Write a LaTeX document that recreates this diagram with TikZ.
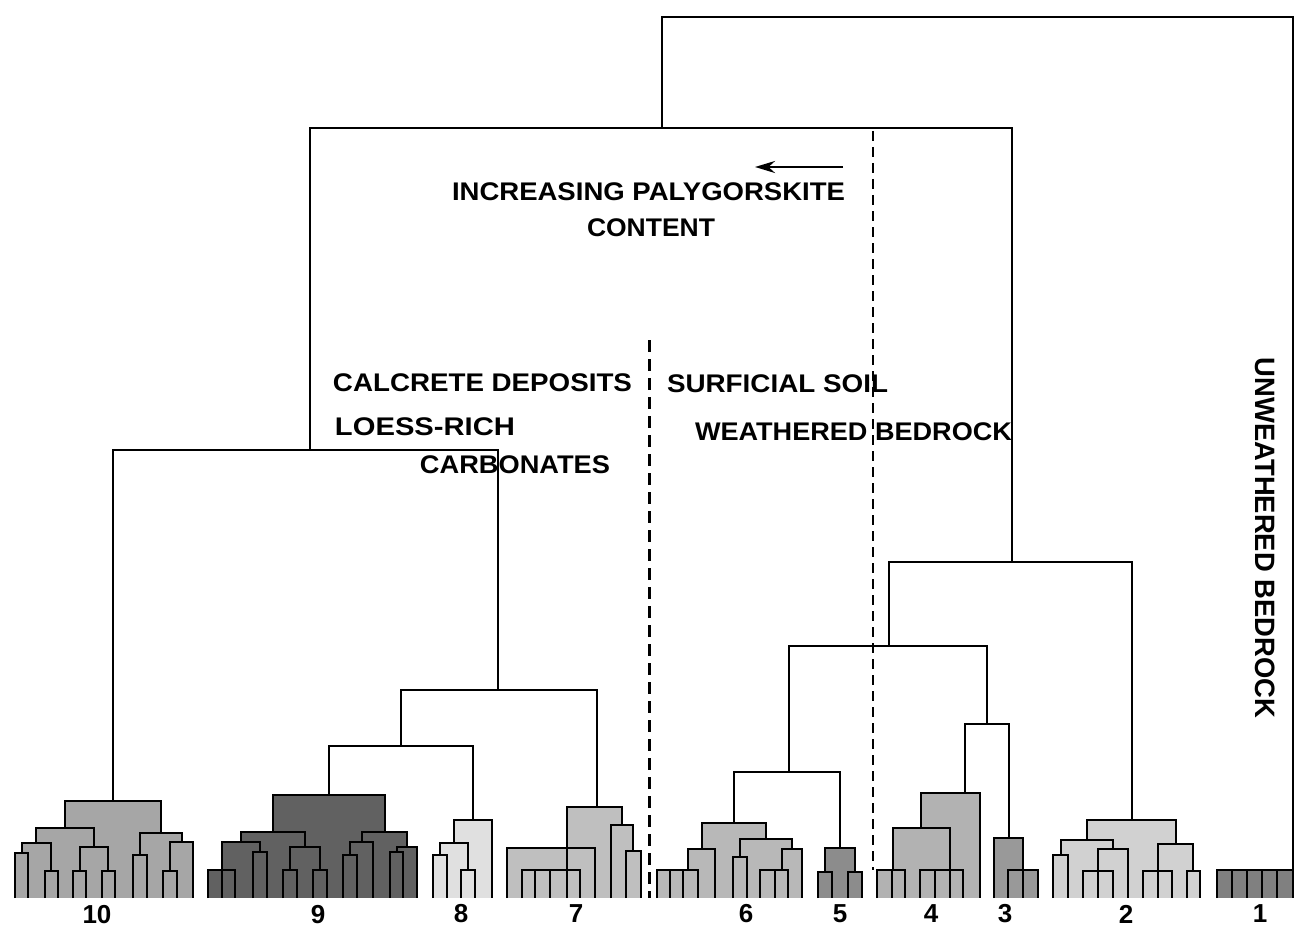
\documentclass[tikz,border=0pt]{standalone}
\usepackage{fontspec}
\setmainfont{Liberation Sans}
\usetikzlibrary{arrows.meta}
\pgfdeclarelayer{bg}
\pgfsetlayers{bg,main}
\newcommand{\clc}{black!30}
\newcommand{\Lk}[5]{%
 \begin{pgfonlayer}{bg}\fill[\clc] (#1,#5) rectangle (#3,898);\end{pgfonlayer}
 \draw[cl] (#1,#2) |- (#3,#5) -- (#3,#4);}
\newcommand{\Lf}[2]{\draw[cl] (#1,#2) -- (#1,898);}
\newcommand{\Mk}[5]{\draw[mainln] (#1,#2) |- (#3,#5) -- (#3,#4);}
\newcommand{\fitw}[2]{\resizebox{#1pt}{\height}{#2}}
\tikzset{
 cl/.style={line width=2.4pt, line join=miter},
 mainln/.style={line width=1.8pt},
 lab/.style={inner sep=0pt, font=\fontsize{25.5}{28}\selectfont\bfseries},
 num/.style={inner sep=0pt, font=\fontsize{26}{28}\selectfont\bfseries},
 thickdash/.style={line width=3pt, dash pattern=on 12pt off 7pt},
 thindash/.style={line width=1.4pt, dash pattern=on 10pt off 6pt}
}
\begin{document}
\begin{tikzpicture}[x=1pt,y=-1pt]
\useasboundingbox (0,0) rectangle (1295,928);
% ---------- main skeleton ----------
\Mk{662}{128}{1293}{870}{17}
\Mk{310}{450}{1012}{562}{128}
\Mk{113}{801}{498}{690}{450}
\Mk{401}{746}{597}{807}{690}
\Mk{329}{795}{473}{820}{746}
\Mk{889}{646}{1132}{820}{562}
\Mk{789}{772}{987}{724}{646}
\Mk{734}{823}{840}{848}{772}
\Mk{965}{793}{1009}{838}{724}
% ---------- cluster 10 ----------
\renewcommand{\clc}{black!35}
\Lk{15}{898}{28}{898}{853}
\Lk{45}{898}{58}{898}{871}
\Lk{22}{853}{51}{871}{843}
\Lk{73}{898}{86}{898}{871}
\Lk{102}{898}{115}{898}{871}
\Lk{80}{871}{108}{871}{847}
\Lk{36}{843}{94}{847}{828}
\Lk{133}{898}{147}{898}{855}
\Lk{163}{898}{177}{898}{871}
\Lk{170}{871}{193}{898}{842}
\Lk{140}{855}{182}{842}{833}
\Lk{65}{828}{161}{833}{801}
% ---------- cluster 9 ----------
\renewcommand{\clc}{black!62}
\Lk{208}{898}{235}{898}{870}\Lf{222}{870}
\Lk{253}{898}{267}{898}{852}
\Lk{222}{870}{260}{852}{842}
\Lk{283}{898}{297}{898}{870}
\Lk{313}{898}{327}{898}{870}
\Lk{290}{870}{320}{870}{847}
\Lk{241}{842}{305}{847}{832}
\Lk{343}{898}{357}{898}{855}
\Lk{350}{855}{373}{898}{842}
\Lk{390}{898}{403}{898}{852}
\Lk{397}{852}{417}{898}{847}
\Lk{362}{842}{407}{847}{832}
\Lk{273}{832}{385}{832}{795}
% ---------- cluster 8 ----------
\renewcommand{\clc}{black!12}
\Lk{433}{898}{447}{898}{855}
\Lk{461}{898}{475}{898}{870}
\Lk{440}{855}{468}{870}{843}
\Lk{454}{843}{492}{898}{820}
% ---------- cluster 7 ----------
\renewcommand{\clc}{black!25}
\Lk{507}{898}{595}{898}{848}
\Lk{522}{898}{580}{898}{870}\Lf{535}{870}\Lf{550}{870}
\Lk{626}{898}{641}{898}{851}
\Lk{611}{898}{633}{851}{825}
\Lk{567}{898}{622}{825}{807}
% ---------- cluster 6 ----------
\renewcommand{\clc}{black!28}
\Lk{657}{898}{698}{898}{870}\Lf{670}{870}\Lf{683}{870}
\Lk{688}{870}{715}{898}{849}
\Lk{733}{898}{747}{898}{857}
\Lk{760}{898}{788}{898}{870}\Lf{775}{870}
\Lk{782}{870}{802}{898}{849}
\Lk{740}{857}{792}{849}{839}
\Lk{702}{849}{766}{839}{823}
% ---------- cluster 5 ----------
\renewcommand{\clc}{black!45}
\Lk{818}{898}{832}{898}{872}
\Lk{848}{898}{862}{898}{872}
\Lk{825}{872}{855}{872}{848}
% ---------- cluster 4 ----------
\renewcommand{\clc}{black!30}
\Lk{877}{898}{905}{898}{870}\Lf{892}{870}
\Lk{920}{898}{963}{898}{870}\Lf{935}{870}\Lf{950}{870}
\Lk{893}{870}{950}{870}{828}
\Lk{921}{828}{980}{898}{793}
% ---------- cluster 3 ----------
\renewcommand{\clc}{black!40}
\Lk{1008}{898}{1038}{898}{870}\Lf{1023}{870}
\Lk{994}{898}{1023}{870}{838}
% ---------- cluster 2 ----------
\renewcommand{\clc}{black!18}
\Lk{1053}{898}{1068}{898}{855}
\Lk{1083}{898}{1113}{898}{871}\Lf{1098}{871}
\Lk{1098}{871}{1128}{898}{849}
\Lk{1061}{855}{1113}{849}{840}
\Lk{1143}{898}{1172}{898}{871}\Lf{1158}{871}
\Lk{1187}{898}{1200}{898}{871}
\Lk{1158}{871}{1193}{871}{844}
\Lk{1087}{840}{1176}{844}{820}
% ---------- cluster 1 ----------
\fill[black!50] (1217,870) rectangle (1293,898);
\draw[cl] (1217,898) |- (1293,870);
\foreach \xx in {1232,1247,1262,1277,1293} {\Lf{\xx}{870}}
% ---------- dashed separators ----------
\coordinate (d1a) at (649,340);
\coordinate (d1b) at (649,898);
\coordinate (d2a) at (873,131);
\coordinate (d2b) at (873,870);
\draw[thickdash] (d1a) -- (d1b);
\draw[thindash] (d2a) -- (d2b);
% ---------- arrow ----------
\coordinate (ar1) at (843,167);
\coordinate (ar2) at (755,167);
\draw[line width=2.6pt, -{Stealth[length=20pt,width=12pt]}] (ar1) -- (ar2);
% ---------- labels ----------
\node[lab] (inc) at (648.5,192) {\fitw{393}{INCREASING PALYGORSKITE}};
\node[lab] (con) at (651,228) {\fitw{128}{CONTENT}};
\node[lab] (cal) at (482.5,383) {\fitw{299}{CALCRETE DEPOSITS}};
\node[lab] (loe) at (425,427) {\fitw{180}{LOESS-RICH}};
\node[lab] (car) at (515,465) {\fitw{190}{CARBONATES}};
\node[lab] (sur) at (777.5,384) {\fitw{221}{SURFICIAL SOIL}};
\node[lab] (wea) at (853.5,432) {\fitw{317}{WEATHERED BEDROCK}};
\node[lab, rotate=-90, font=\fontsize{28}{30}\selectfont\bfseries] (unw) at (1265,538) {\fitw{360}{UNWEATHERED BEDROCK}};
% ---------- cluster numbers ----------
\node[num] (n10) at (97,915) {10};
\node[num] (n9) at (318,915) {9};
\node[num] (n8) at (461,914) {8};
\node[num] (n7) at (576,914) {7};
\node[num] (n6) at (746,914) {6};
\node[num] (n5) at (840,914) {5};
\node[num] (n4) at (931,914) {4};
\node[num] (n3) at (1005,914) {3};
\node[num] (n2) at (1126,914) {2};
\node[num] (n1) at (1260,914) {1};
\end{tikzpicture}
\end{document}
